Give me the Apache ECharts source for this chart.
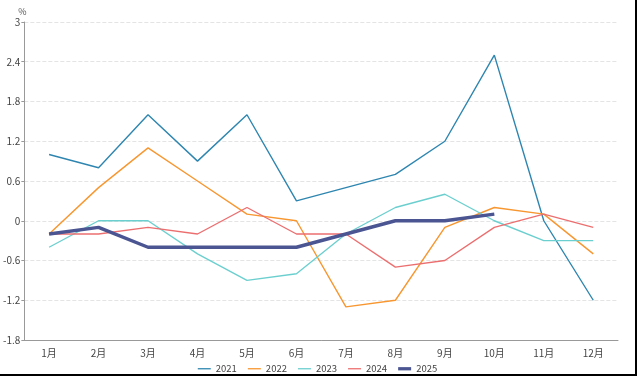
<!DOCTYPE html>
<html><head><meta charset="utf-8">
<script src="https://cdn.jsdelivr.net/npm/echarts@6/dist/echarts.min.js"></script>
<style>html,body{margin:0;padding:0;background:#fff}#c{width:637px;height:376px;box-sizing:border-box;border-right:2px solid #000;border-bottom:2px solid #000}</style>
</head><body><div id="c"></div>
<script>
var categories = ['1月','2月','3月','4月','5月','6月','7月','8月','9月','10月','11月','12月'];
var s2021 = [1.0, 0.8, 1.6, 0.9, 1.6, 0.3, 0.5, 0.7, 1.2, 2.5, 0.0, -1.2];
var s2022 = [-0.2, 0.5, 1.1, 0.6, 0.1, 0.0, -1.3, -1.2, -0.1, 0.2, 0.1, -0.5];
var s2023 = [-0.4, 0.0, 0.0, -0.5, -0.9, -0.8, -0.2, 0.2, 0.4, 0.0, -0.3, -0.3];
var s2024 = [-0.2, -0.2, -0.1, -0.2, 0.2, -0.2, -0.2, -0.7, -0.6, -0.1, 0.1, -0.1];
var s2025 = [-0.2, -0.1, -0.4, -0.4, -0.4, -0.4, -0.2, 0.0, 0.0, 0.1];
var yTicks = [-1.8, -1.2, -0.6, 0, 0.6, 1.2, 1.8, 2.4, 3];

var colors = ['#2e86b0', '#f8962f', '#6ccfcf', '#ec6f70', '#4a5592'];
var names = ['2021','2022','2023','2024','2025'];
var datas = [s2021, s2022, s2023, s2024, s2025];
var font = '"Noto Sans CJK SC", "Noto Sans", sans-serif';
var chart = echarts.init(document.getElementById('c'));
chart.setOption({
  animation: false,
  color: colors,
  grid: {left: 22, right: 17, top: 22, bottom: 34, containLabel: false},
  legend: {
    top: 359, left: 'center', itemWidth: 13, itemHeight: 6, itemGap: 11,
    textStyle: {fontFamily: font, fontSize: 9.5, color: '#444'},
    data: names.map(function(n, i){
      return {name: n, icon: i === 4 ? 'path://M0,0H20V5H0Z' : 'path://M0,0H20V2H0Z'};
    })
  },
  xAxis: {
    type: 'category', data: categories, boundaryGap: true,
    axisLine: {onZero: false, lineStyle: {color: '#999', width: 1}},
    axisTick: {show: false},
    axisLabel: {fontFamily: font, fontSize: 10, color: '#444', margin: 8}
  },
  yAxis: {
    type: 'value', min: -1.8, max: 3, interval: 0.6,
    name: '%', nameGap: 6,
    nameTextStyle: {fontFamily: font, fontSize: 9, color: '#555', align: 'center', padding: [0, 0, 0, -4]},
    axisLine: {show: true, lineStyle: {color: '#999'}},
    axisTick: {show: true, length: 3, lineStyle: {color: '#999'}},
    axisLabel: {fontFamily: font, fontSize: 10, color: '#444', margin: 4,
      formatter: function(v){ return String(Math.round(v*10)/10); }},
    splitLine: {lineStyle: {type: 'dashed', color: '#e4e4e4'}}
  },
  series: names.map(function(n, i){
    return {
      name: n, type: 'line', data: datas[i], showSymbol: false, symbol: 'none',
      lineStyle: {width: i === 4 ? 3.5 : 1.4, color: colors[i]},
      z: i === 4 ? 5 : 2
    };
  })
});
</script></body></html>
